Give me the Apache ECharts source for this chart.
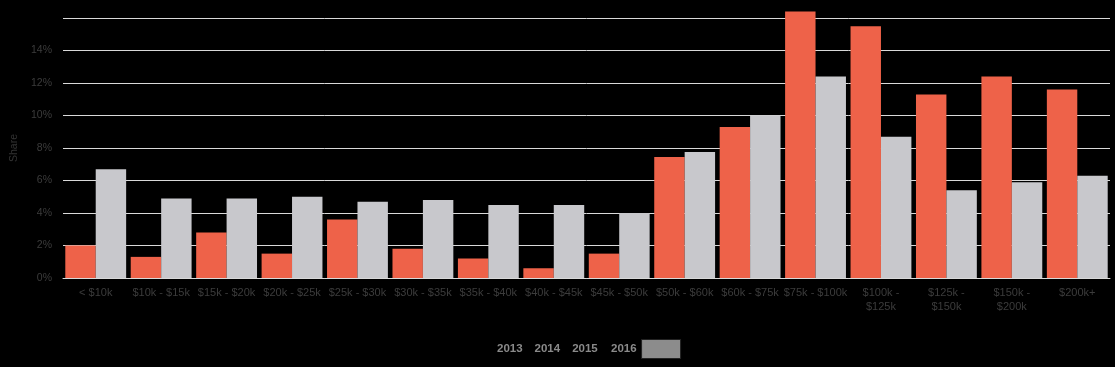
<!DOCTYPE html>
<html><head><meta charset="utf-8">
<script src="https://cdn.jsdelivr.net/npm/echarts@6/dist/echarts.min.js"></script>
<style>html,body{margin:0;padding:0;background:#000;}#c{width:1115px;height:367px;}</style>
</head><body><div id="c"></div>
<script>
var categories = ['< $10k','$10k - $15k','$15k - $20k','$20k - $25k','$25k - $30k','$30k - $35k','$35k - $40k','$40k - $45k','$45k - $50k','$50k - $60k','$60k - $75k','$75k - $100k','$100k - $125k','$125k - $150k','$150k - $200k','$200k+'];
var orangeValues = [2.0,1.3,2.8,1.5,3.6,1.8,1.2,0.6,1.5,7.45,9.3,16.4,15.5,11.3,12.4,11.6];
var grayValues = [6.7,4.9,4.9,5.0,4.7,4.8,4.5,4.5,4.0,7.75,10.0,12.4,8.7,5.4,5.9,6.3];
var legendYears = ['2013','2014','2015','2016'];

var chart = echarts.init(document.getElementById('c'));
var font = '"Liberation Sans", sans-serif';
chart.setOption({
  backgroundColor: '#000',
  animation: false,
  grid: {left: 63, right: 5, top: 18, bottom: 89},
  legend: [{
    data: legendYears.slice(0,3).map(function(n){return {name:n, itemStyle:{color:'rgba(0,0,0,0)'}};}),
    left: 497, top: 343, align: 'right', itemWidth: 1, itemHeight: 1, itemGap: 6, padding: 0,
    icon: 'rect', selectedMode: false,
    textStyle: {color: '#8a8a8a', fontFamily: font, fontWeight: 'bold', fontSize: 11.5}
  },{
    data: [{name: legendYears[3], itemStyle:{color:'#8c8c8c', borderColor:'#222', borderWidth:1}}],
    left: 611, top: 339, align: 'right', itemWidth: 39, itemHeight: 19, padding: 0,
    icon: 'rect', selectedMode: false,
    textStyle: {color: '#8a8a8a', fontFamily: font, fontWeight: 'bold', fontSize: 11.5}
  }],
  xAxis: {
    type: 'category', data: categories,
    axisLine: {show: true, lineStyle: {color: '#d9d9d9', width: 1}},
    axisTick: {show: false},
    axisLabel: {
      color: '#3c3c3c', fontFamily: font, fontSize: 11, interval: 0, margin: 8, lineHeight: 14,
      formatter: function(v){ return v.length > 12 ? v.replace(' - ', ' -\n') : v; }
    }
  },
  yAxis: {
    type: 'value', min: 0, max: 16, interval: 2,
    name: 'Share', nameLocation: 'middle', nameGap: 38, nameRotate: 90,
    nameTextStyle: {color: '#333', fontFamily: font, fontSize: 10.5},
    axisLine: {show: false}, axisTick: {show: false},
    axisLabel: {color: '#3c3c3c', fontFamily: font, fontSize: 10.5, margin: 11,
      formatter: function(v){ return v === 16 ? '' : v + '%'; }},
    splitLine: {show: true, lineStyle: {color: '#d9d9d9', width: 1}}
  },
  series: [
    {name: '2013', type: 'bar', data: orangeValues, clip: false,
     itemStyle: {color: '#ee6249'}, barGap: '0%', barCategoryGap: '7%'},
    {name: '2014', type: 'line', data: []},
    {name: '2015', type: 'line', data: []},
    {name: '2016', type: 'bar', data: grayValues, clip: false,
     itemStyle: {color: '#c8c8cc'}, barGap: '0%', barCategoryGap: '7%'}
  ]
});
</script></body></html>
